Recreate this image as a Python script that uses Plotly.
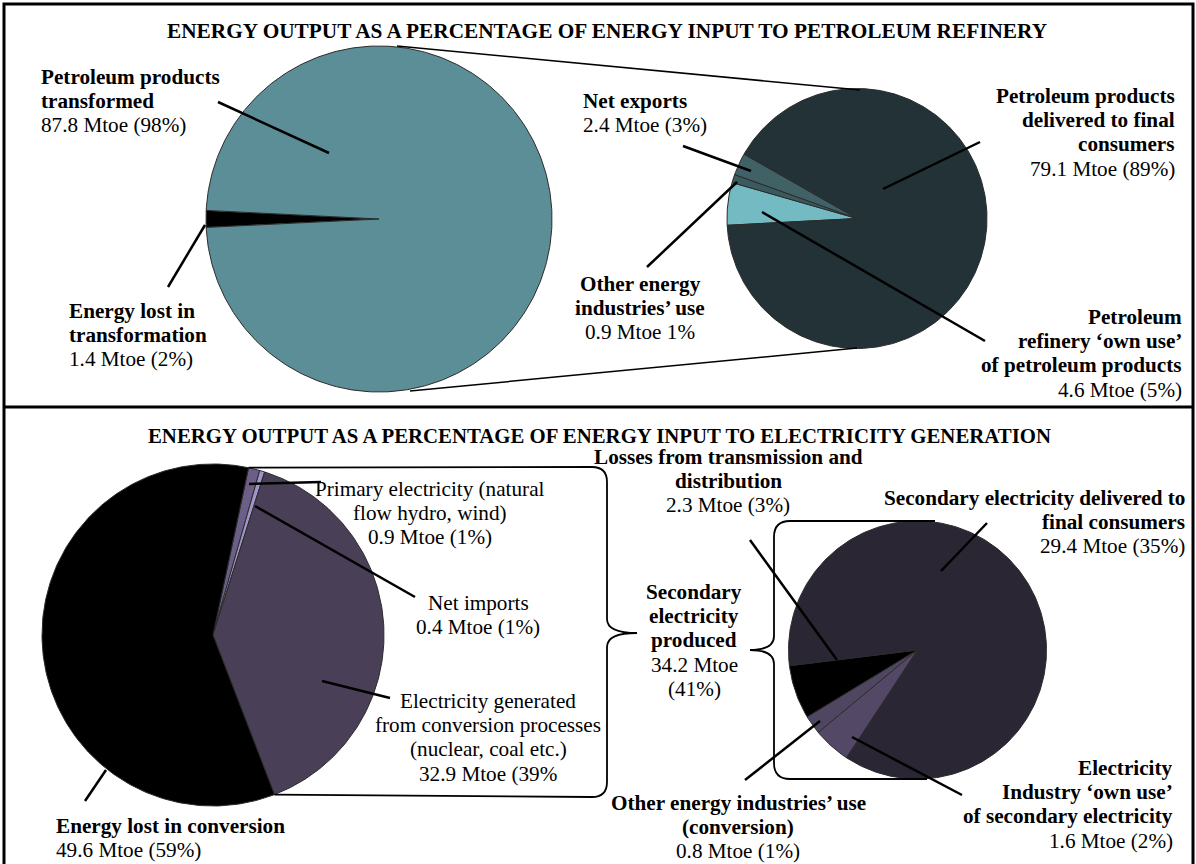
import numpy as np
import plotly.graph_objects as go

# ---------------- data ----------------
titles = [
    "ENERGY OUTPUT AS A PERCENTAGE OF ENERGY INPUT TO PETROLEUM REFINERY",
    "ENERGY OUTPUT AS A PERCENTAGE OF ENERGY INPUT TO ELECTRICITY GENERATION",
]

# Refinery input split (left pie, top)
ref_in_labels = ["Energy lost in<br>transformation", "Petroleum products<br>transformed"]
ref_in_values = [1.4, 87.8]
ref_in_pct = [2, 98]
ref_in_fmt = ["{v} Mtoe ({p}%)", "{v} Mtoe ({p}%)"]
ref_in_bold = [True, True]
ref_in_colors = ["#000000", "#5B8E96"]

# Refinery output split (right pie, top)
ref_out_labels = ["Petroleum<br>refinery \u2018own use\u2019<br>of petroleum products",
                  "Other energy<br>industries\u2019 use",
                  "Net exports",
                  "Petroleum products<br>delivered to final<br>consumers"]
ref_out_values = [4.6, 0.9, 2.4, 79.1]
ref_out_pct = [5, 1, 3, 89]
ref_out_fmt = ["{v} Mtoe ({p}%)", "{v} Mtoe {p}%", "{v} Mtoe ({p}%)", "{v} Mtoe ({p}%)"]
ref_out_bold = [True, True, True, True]
ref_out_colors = ["#74BAC3", "#3A5A60", "#406267", "#223237"]

# Electricity generation input split (left pie, bottom)
el_in_labels = ["Primary electricity (natural<br>flow hydro, wind)",
                "Net imports",
                "Electricity generated<br>from conversion processes<br>(nuclear, coal etc.)",
                "Energy lost in conversion"]
el_in_values = [0.9, 0.4, 32.9, 49.6]
el_in_pct = [1, 1, 39, 59]
el_in_fmt = ["{v} Mtoe ({p}%)", "{v} Mtoe ({p}%)", "{v} Mtoe ({p}%", "{v} Mtoe ({p}%)"]
el_in_bold = [False, False, False, True]
el_in_colors = ["#6B5E87", "#A094CC", "#493F57", "#000000"]

# Secondary electricity produced (bracket)
sec_label = "Secondary<br>electricity<br>produced"
sec_value = 34.2
sec_pct = 41

# Electricity output split (right pie, bottom)
el_out_labels = ["Losses from transmission and<br>distribution",
                 "Other energy industries\u2019 use<br>(conversion)",
                 "Electricity<br>Industry \u2018own use\u2019<br>of secondary electricity",
                 "Secondary electricity delivered to<br>final consumers"]
el_out_values = [2.3, 0.8, 1.6, 29.4]
el_out_pct = [3, 1, 2, 35]
el_out_fmt = ["{v} Mtoe ({p}%)"] * 4
el_out_bold = [True, True, True, True]
el_out_colors = ["#000000", "#4F4661", "#534966", "#2A2633"]

# ---------------- layout constants ----------------
W, H = 1196, 864
FONT = "'Liberation Serif', 'Times New Roman', Times, serif"
FS = 21.2
FS_TITLES = [21.3, 20.8]
LS = 24.2  # line spacing in px
OUTLINE = "#2b2b2b"

fig = go.Figure()


def add_pie(values, colors, cx, cy, r, start, clockwise):
    total = float(sum(values))
    sgn = -1.0 if clockwise else 1.0
    a = start
    bounds = []
    for v, c in zip(values, colors):
        span = 360.0 * v / total
        a1 = a + sgn * span
        n = max(4, int(span) + 2)
        t = np.radians(np.linspace(a, a1, n))
        xs = np.concatenate([[cx], cx + r * np.cos(t), [cx]])
        ys = np.concatenate([[cy], cy - r * np.sin(t), [cy]])
        fig.add_trace(go.Scatter(x=xs, y=ys, mode="lines", fill="toself",
                                 fillcolor=c, line=dict(color=OUTLINE, width=1),
                                 hoverinfo="skip", showlegend=False))
        bounds.append((a, a1))
        a = a1
    return bounds


def pt(cx, cy, r, ang):
    return cx + r * np.cos(np.radians(ang)), cy - r * np.sin(np.radians(ang))


# pie geometry (centre x, centre y, radius, start angle, clockwise)
P1 = (379, 219, 173, 182.8, True)
P2 = (857, 218.5, 130, 183.0, True)
P3 = (213, 635, 171, 78.0, True)
P4 = (917.5, 650, 129, 187.0, False)

b1 = add_pie(ref_in_values, ref_in_colors, *P1)
b2 = add_pie(ref_out_values, ref_out_colors, *P2)
b3 = add_pie(el_in_values, el_in_colors, *P3)
b4 = add_pie(el_out_values, el_out_colors, *P4)

shapes = []
# frame
shapes.append(dict(type="rect", x0=4, y0=4, x1=1193, y1=868, line=dict(color="black", width=3)))
shapes.append(dict(type="line", x0=4, y0=407, x1=1193, y1=407, line=dict(color="black", width=3)))

# zoom connector lines (top panel)
for (x0, y0, x1, y1) in [(397, 46, 860, 90), (410, 391, 857, 348)]:
    shapes.append(dict(type="line", x0=x0, y0=y0, x1=x1, y1=y1, line=dict(color="black", width=1.5)))

# leader lines
leaders = [
    (218, 102, 329, 153), (168, 287, 205, 225),
    (683, 146, 751, 171), (647, 267, 737, 182),
    (980, 142, 883, 189), (762, 212, 985, 341),
    (750, 540, 837, 660), (987, 523, 941, 571),
    (321, 482, 249, 484), (415, 597, 255, 506),
    (390, 698, 322, 681), (85, 801, 106, 770),
    (745, 780, 820, 721), (962, 795, 852, 737),
]
for (x0, y0, x1, y1) in leaders:
    shapes.append(dict(type="line", x0=x0, y0=y0, x1=x1, y1=y1, line=dict(color="black", width=2.5)))

# big brace linking secondary-electricity part of the left pie
tx, ty = pt(P3[0], P3[1], P3[2], b3[0][0])
bx, by = pt(P3[0], P3[1], P3[2], b3[2][1])
big = (f"M {tx:.1f},{ty:.1f} L 592,467 Q 607,467 607,482 L 607,619 "
       f"Q 607,633 637,633 Q 607,633 607,647 L 607,782 Q 607,797 592,797 L {bx:.1f},{by:.1f}")
shapes.append(dict(type="path", path=big, line=dict(color="black", width=1.8)))

# small brace around the right pie
cx4, cy4, r4 = P4[0], P4[1], P4[2]
small = (f"M 935,{cy4 - r4:.1f} L 790,{cy4 - r4:.1f} Q 774,{cy4 - r4:.1f} 774,{cy4 - r4 + 16:.1f} "
         f"L 774,{cy4 - 14:.1f} Q 774,{cy4:.1f} 750,{cy4:.1f} Q 774,{cy4:.1f} 774,{cy4 + 14:.1f} "
         f"L 774,{cy4 + r4 - 16:.1f} Q 774,{cy4 + r4:.1f} 790,{cy4 + r4:.1f} L 927,{cy4 + r4:.1f}")
shapes.append(dict(type="path", path=small, line=dict(color="black", width=1.8)))

annotations = []


def add_lines(lines, x, y_first, align):
    xanchor = {"left": "left", "center": "center", "right": "right"}[align]
    for i, (txt, bold) in enumerate(lines):
        t = f"<b>{txt}</b>" if bold else txt
        annotations.append(dict(x=x, y=y_first + i * LS, xref="x", yref="y", text=t,
                                showarrow=False, xanchor=xanchor, yanchor="middle",
                                align=align, borderpad=0,
                                font=dict(family=FONT, size=FS, color="black")))


def label_lines(name, v, p, fmt, bold):
    lines = [(s, bold) for s in name.split("<br>")]
    lines.append((fmt.format(v=v, p=p), False))
    return lines


# titles
for (tx_, ty_), ttl, fs in zip([(607, 31), (599, 435)], titles, FS_TITLES):
    annotations.append(dict(x=tx_, y=ty_, xref="x", yref="y", text=f"<b>{ttl}</b>", showarrow=False,
                            xanchor="center", yanchor="middle",
                            font=dict(family=FONT, size=fs, color="black")))

# label placements: (x, first line y, align)
ref_in_pos = [(68, 311, "left"), (40, 77, "left")]
ref_out_pos = [(1183, 317, "right"), (640, 284, "center"), (582, 101, "left"), (1176, 96, "right")]
el_in_pos = [(430, 489, "center"), (478, 603, "center"), (488, 701, "center"), (55, 826, "left")]
el_out_pos = [(728, 457, "center"), (738, 803, "center"), (1174, 768, "right"), (1186, 498, "right")]

for labels, vals, pcts, fmts, bolds, pos in [
    (ref_in_labels, ref_in_values, ref_in_pct, ref_in_fmt, ref_in_bold, ref_in_pos),
    (ref_out_labels, ref_out_values, ref_out_pct, ref_out_fmt, ref_out_bold, ref_out_pos),
    (el_in_labels, el_in_values, el_in_pct, el_in_fmt, el_in_bold, el_in_pos),
    (el_out_labels, el_out_values, el_out_pct, el_out_fmt, el_out_bold, el_out_pos),
]:
    for name, v, p, f, b, (x, y, al) in zip(labels, vals, pcts, fmts, bolds, pos):
        add_lines(label_lines(name, v, p, f, b), x, y, al)

sec_lines = [(s, True) for s in sec_label.split("<br>")] + [(f"{sec_value} Mtoe", False), (f"({sec_pct}%)", False)]
add_lines(sec_lines, 694, 592, "center")

fig.update_layout(
    width=W, height=H,
    margin=dict(l=0, r=0, t=0, b=0),
    paper_bgcolor="white", plot_bgcolor="white",
    showlegend=False,
    font=dict(family=FONT),
    xaxis=dict(range=[0, W], visible=False, fixedrange=True),
    yaxis=dict(range=[H, 0], visible=False, fixedrange=True),
    shapes=shapes,
    annotations=annotations,
)

fig.write_html("out.html")
